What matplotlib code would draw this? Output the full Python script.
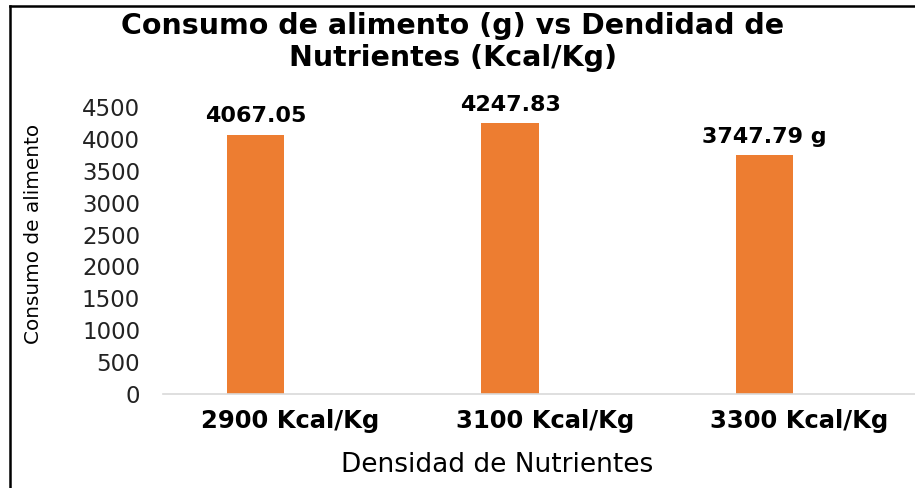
import matplotlib
matplotlib.use("Agg")
from matplotlib import pyplot as plt
from matplotlib.lines import Line2D

categorias = ["2900 Kcal/Kg", "3100 Kcal/Kg", "3300 Kcal/Kg"]
consumo = [4067.05, 4247.83, 3747.79]
etiquetas = ["4067.05", "4247.83", "3747.79 g"]
y_ticks = [0, 500, 1000, 1500, 2000, 2500, 3000, 3500, 4000, 4500]

plt.rcParams['font.family'] = ['DejaVu Sans']

W, H = 915, 488
fig = plt.figure(figsize=(W / 100, H / 100), dpi=100)
fig.patch.set_facecolor('white')

# plot area runs past the right edge, as in the cropped original
ax = fig.add_axes([163 / W, 1 - 394 / H, 763.5 / W, 287 / H])

pos = list(range(len(categorias)))
bar_pos = [p - 0.136 for p in pos]
ax.bar(bar_pos, consumo, width=0.226, color='#ED7D31')

for x, v, t in zip(bar_pos, consumo, etiquetas):
    ax.annotate(t, xy=(x, v), xytext=(0, 6), textcoords='offset points',
                ha='center', va='bottom', fontsize=16, fontweight='bold',
                color='black')

ax.set_xlim(-0.5, 2.5)
ax.set_ylim(0, 4500)
ax.set_yticks(y_ticks)
ax.set_yticklabels([str(v) for v in y_ticks], fontsize=16.5, color='#222222')
ax.set_xticks(pos)
ax.set_xticklabels(categorias, fontsize=17.5, fontweight='bold')
ax.tick_params(axis='y', length=0, pad=16.5)
ax.tick_params(axis='x', length=0, pad=11)

for s in ['top', 'right', 'left']:
    ax.spines[s].set_visible(False)
ax.spines['bottom'].set_color('#D9D9D9')
ax.spines['bottom'].set_linewidth(1.2)

fig.text(453 / W, 1 - 12 / H,
         "Consumo de alimento (g) vs Dendidad de\nNutrientes (Kcal/Kg)",
         ha='center', va='top', fontsize=20.5, fontweight='bold',
         linespacing=1.2)
fig.text(34 / W, 1 - 234 / H, "Consumo de alimento", rotation=90,
         ha='center', va='center', fontsize=14.4)
fig.text(497 / W, 1 - 472 / H, "Densidad de Nutrientes", ha='center',
         va='baseline', fontsize=19)

# black frame (only left and top edges are visible in the crop)
fig.add_artist(Line2D([9.5 / W, 9.5 / W], [0, 1 - 6 / H], color='black',
                      lw=1.8, transform=fig.transFigure))
fig.add_artist(Line2D([9.5 / W, 1], [1 - 6 / H, 1 - 6 / H], color='black',
                      lw=1.8, transform=fig.transFigure))

fig.savefig("out.png", dpi=100)
